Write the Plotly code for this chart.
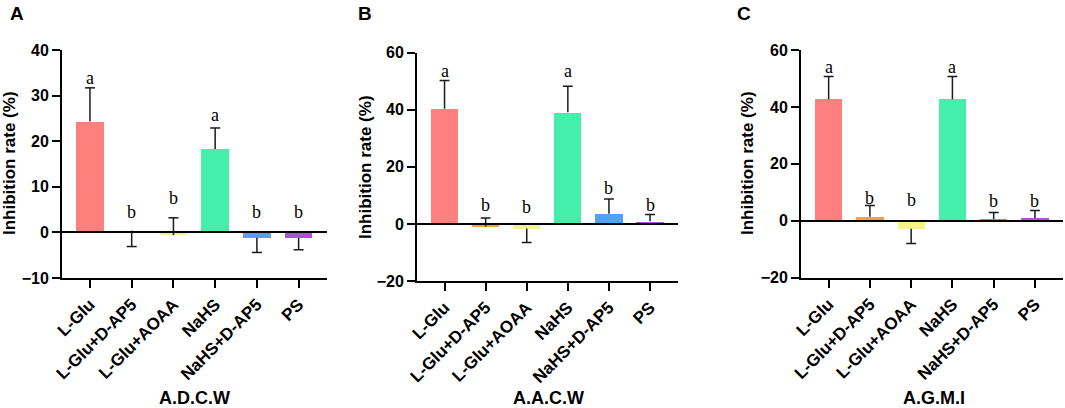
import plotly.graph_objects as go

# ---------------- data ----------------
categories = ["L-Glu", "L-Glu+D-AP5", "L-Glu+AOAA", "NaHS", "NaHS+D-AP5", "PS"]
bar_colors = ["#FF7F7F", "#F7A040", "#F7F38C", "#45EEAA", "#4FA3F3", "#B150DC"]

# Panel A : A.D.C.W
a_values = [24.3, 0.4, -0.6, 18.3, -1.2, -1.2]
a_errors = [7.4, 3.5, 3.8, 4.6, 3.2, 2.6]
a_err_dir = [1, -1, 1, 1, -1, -1]
a_letters = ["a", "b", "b", "a", "b", "b"]
a_letter_y = [33.4, 4.1, 7.0, 25.2, 4.1, 4.1]

# Panel B : A.A.C.W
b_values = [40.4, -0.9, -1.6, 39.1, 3.6, 0.9]
b_errors = [9.9, 3.0, 4.9, 9.1, 5.1, 2.4]
b_err_dir = [1, 1, -1, 1, 1, 1]
b_letters = ["a", "b", "b", "a", "b", "b"]
b_letter_y = [53.0, 6.0, 5.4, 53.0, 11.8, 6.0]

# Panel C : A.G.M.I
c_values = [42.7, 1.4, -2.8, 42.7, 0.6, 0.9]
c_errors = [8.0, 4.0, 5.2, 8.0, 2.3, 2.7]
c_err_dir = [1, 1, -1, 1, 1, 1]
c_letters = ["a", "b", "b", "a", "b", "b"]
c_letter_y = [53.3, 7.4, 6.5, 53.3, 6.3, 6.1]

panel_labels = ["A", "B", "C"]
x_titles = ["A.D.C.W", "A.A.C.W", "A.G.M.I"]
y_title = "Inhibition rate (%)"
y_ranges = [[-10, 40], [-20, 60], [-20, 60]]
y_dticks = [10, 20, 20]

# ---------------- layout / style ----------------
W, H = 1065, 408
SANS = "Liberation Sans"
SERIF = "Liberation Serif"
CAP = 0.12

panels = [
    dict(values=a_values, errors=a_errors, dirs=a_err_dir, letters=a_letters, letter_y=a_letter_y,
         xdom=(62, 327), ydom=(50, 278), ytitle_x=9, ytitle_y=163, lab_x=17, xt_x=194),
    dict(values=b_values, errors=b_errors, dirs=b_err_dir, letters=b_letters, letter_y=b_letter_y,
         xdom=(417, 678), ydom=(52.7, 281), ytitle_x=365, ytitle_y=167, lab_x=365, xt_x=548),
    dict(values=c_values, errors=c_errors, dirs=c_err_dir, letters=c_letters, letter_y=c_letter_y,
         xdom=(801, 1063), ydom=(50, 277.7), ytitle_x=747, ytitle_y=163, lab_x=744, xt_x=934),
]

fig = go.Figure()
annotations = []
idx = list(range(len(categories)))

for k, p in enumerate(panels):
    xa = "x" if k == 0 else f"x{k+1}"
    ya = "y" if k == 0 else f"y{k+1}"
    fig.add_trace(go.Bar(
        x=idx, y=p["values"], width=0.66,
        marker=dict(color=bar_colors, line=dict(width=0)),
        xaxis=xa, yaxis=ya, showlegend=False, hoverinfo="skip"))
    ex, ey = [], []
    for i, v, e, d in zip(idx, p["values"], p["errors"], p["dirs"]):
        end = v + d * e
        ex += [i, i, None, i - CAP, i + CAP, None]
        ey += [v, end, None, end, end, None]
    fig.add_trace(go.Scatter(
        x=ex, y=ey, mode="lines", line=dict(color="#1a1a1a", width=1.5),
        xaxis=xa, yaxis=ya, showlegend=False, hoverinfo="skip"))
    for i, t, ly in zip(idx, p["letters"], p["letter_y"]):
        annotations.append(dict(x=i, y=ly, xref=xa, yref=ya, text=t, showarrow=False,
                                font=dict(family=SERIF, size=18, color="black"),
                                xanchor="center", yanchor="middle", yshift=2))
    # panel letter
    annotations.append(dict(x=p["lab_x"] / W, y=1 - 13 / H, xref="paper", yref="paper",
                            text=panel_labels[k], showarrow=False,
                            font=dict(family=SANS, size=19, color="black", weight="bold"),
                            xanchor="center", yanchor="middle"))
    # y title
    annotations.append(dict(x=p["ytitle_x"] / W, y=1 - p["ytitle_y"] / H, xref="paper", yref="paper",
                            text=y_title, textangle=-90, showarrow=False,
                            font=dict(family=SANS, size=17, color="black", weight="bold"),
                            xanchor="center", yanchor="middle"))
    # x title
    annotations.append(dict(x=p["xt_x"] / W, y=1 - 398 / H, xref="paper", yref="paper",
                            text=x_titles[k], showarrow=False,
                            font=dict(family=SANS, size=18, color="black", weight="bold"),
                            xanchor="center", yanchor="middle"))

    xkey = "xaxis" if k == 0 else f"xaxis{k+1}"
    ykey = "yaxis" if k == 0 else f"yaxis{k+1}"
    fig.update_layout(**{
        xkey: dict(domain=[p["xdom"][0] / W, p["xdom"][1] / W], anchor=ya, automargin=False,
                   range=[-0.67, 5.68], tickmode="array", tickvals=idx, ticktext=categories,
                   tickangle=-45, ticks="outside", ticklen=8, tickwidth=2, tickcolor="black",
                   showline=True, linewidth=2, linecolor="black", showgrid=False, zeroline=False,
                   tickfont=dict(family=SANS, size=17, color="black", weight="bold")),
        ykey: dict(domain=[1 - p["ydom"][1] / H, 1 - p["ydom"][0] / H], anchor=xa, automargin=False,
                   range=y_ranges[k], dtick=y_dticks[k], tick0=0, ticks="outside", ticklen=8,
                   tickwidth=2, tickcolor="black", showline=True, linewidth=2, linecolor="black",
                   showgrid=False, zeroline=True, zerolinecolor="black", zerolinewidth=2,
                   zerolinelayer="above traces",
                   tickfont=dict(family=SANS, size=16, color="black", weight="bold")),
    })

fig.update_layout(width=W, height=H, margin=dict(l=0, r=0, t=0, b=0, autoexpand=False),
                  paper_bgcolor="white", plot_bgcolor="white",
                  annotations=annotations, bargap=0)

fig.write_html("out.html", config={"displayModeBar": False},
               post_script="document.body.style.margin='0';document.body.style.overflow='hidden';")
